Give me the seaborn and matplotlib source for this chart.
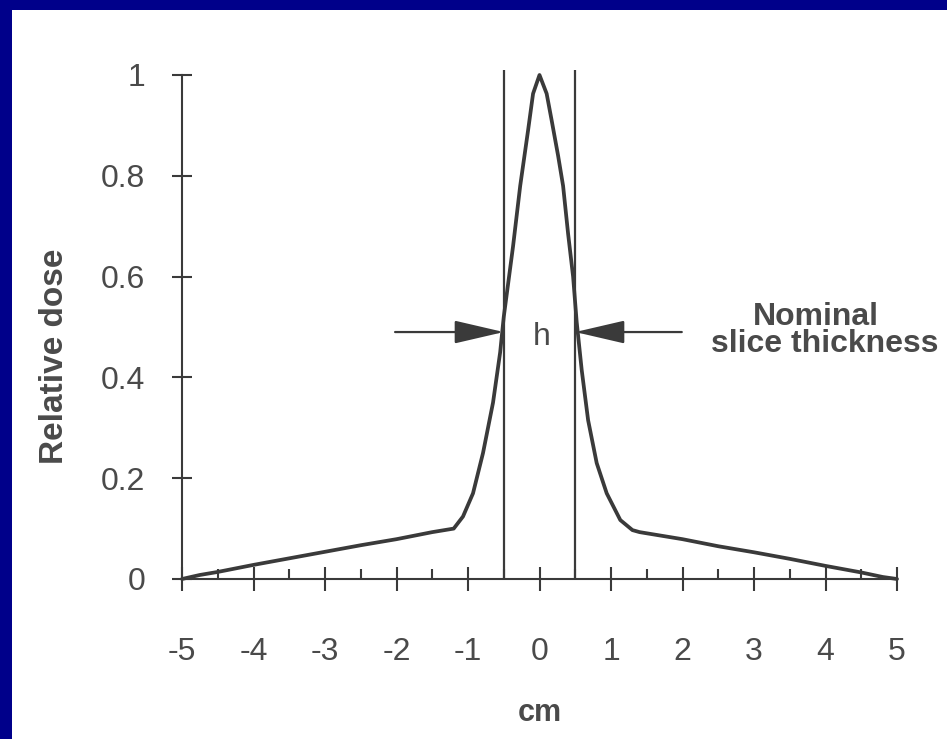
import numpy as np
import pandas as pd
import matplotlib
matplotlib.use('Agg')
import matplotlib.pyplot as plt
import seaborn as sns
from matplotlib.patches import Rectangle
from matplotlib.ticker import MultipleLocator

# slice sensitivity profile
cm_pos = [-5.0, -4.75, -4.5, -4.0, -3.5, -3.0, -2.5, -2.0, -1.5, -1.2, -1.07, -0.93, -0.79, -0.65,
          -0.55, -0.5, -0.37, -0.27, -0.16, -0.09, 0.0, 0.1, 0.17, 0.26, 0.33, 0.4, 0.47, 0.52,
          0.59, 0.68, 0.8, 0.94, 1.13, 1.3, 1.4, 2.0, 2.5, 3.0, 3.5, 4.0, 4.5, 4.8, 5.0]
dose = [0.0, 0.008, 0.014, 0.028, 0.041, 0.054, 0.067, 0.079, 0.093, 0.10, 0.124, 0.17, 0.25, 0.35,
        0.45, 0.52, 0.66, 0.78, 0.89, 0.963, 1.0, 0.963, 0.91, 0.84, 0.78, 0.685, 0.60, 0.51,
        0.415, 0.315, 0.23, 0.17, 0.117, 0.097, 0.093, 0.079, 0.065, 0.053, 0.04, 0.026, 0.013, 0.004, 0.0]
slice_edges = [-0.5, 0.5]
half_max = 0.49
x_ticks = [-5, -4, -3, -2, -1, 0, 1, 2, 3, 4, 5]
x_labels = ['-5', '-4', '-3', '-2', '-1', '0', '1', '2', '3', '4', '5']
y_ticks = [0, 0.2, 0.4, 0.6, 0.8, 1.0]
y_labels = ['0', '0.2', '0.4', '0.6', '0.8', '1']

df = pd.DataFrame({'cm': cm_pos, 'dose': dose})

sns.set_theme(style='white')
plt.rcParams['font.family'] = ['Liberation Sans', 'DejaVu Sans']
ink = '#3a3a3a'
txt = '#4a4a4a'

fig = plt.figure(figsize=(9.47, 7.39), dpi=100)
fig.patch.set_facecolor('#00008a')
fig.add_artist(Rectangle((12/947, 0), 1, 1 - 10/739, transform=fig.transFigure,
                         facecolor='white', edgecolor='none', zorder=0))
ax = fig.add_axes([182/947, (739-579)/739, 715/947, 504/739])
ax.set_facecolor('none')

sns.lineplot(data=df, x='cm', y='dose', ax=ax, color=ink, linewidth=2.7, clip_on=False, zorder=3)
ax.vlines(slice_edges, 0, 1.01, color=ink, linewidth=1.6, clip_on=False, zorder=2)

arrow_kw = dict(arrowstyle='-|>,head_length=1.55,head_width=0.36', color=ink, lw=1.6,
                mutation_scale=20, shrinkA=0, shrinkB=0)
ax.annotate('', xy=(slice_edges[0], half_max), xytext=(-2.02, half_max), arrowprops=arrow_kw)
ax.annotate('', xy=(slice_edges[1], half_max), xytext=(1.99, half_max), arrowprops=arrow_kw)
ax.text(0.03, 0.464, 'h', ha='center', va='baseline', fontsize=23, color=txt)
ax.text(3.87, 0.504, 'Nominal', ha='center', va='baseline', fontsize=23,
        fontweight='bold', color=txt)
ax.text(3.99, 0.450, 'slice thickness', ha='center', va='baseline', fontsize=23,
        fontweight='bold', color=txt)

ax.set_xlim(-5, 5)
ax.set_ylim(0, 1)
sns.despine(ax=ax)
for s in ['left', 'bottom']:
    ax.spines[s].set_color(ink)
    ax.spines[s].set_linewidth(1.5)

ax.set_xticks(x_ticks)
ax.set_xticklabels(x_labels)
ax.set_yticks(y_ticks)
ax.set_yticklabels(y_labels)
ax.xaxis.set_minor_locator(MultipleLocator(0.5))
ax.tick_params(axis='x', which='major', direction='inout', length=17, width=1.5, color=ink,
               labelsize=23, labelcolor=txt, pad=33, bottom=True)
ax.tick_params(axis='x', which='minor', direction='in', length=7.5, width=1.5, color=ink, bottom=True)
ax.tick_params(axis='y', which='major', direction='inout', length=15, width=1.5, color=ink,
               labelsize=23, labelcolor=txt, pad=19, left=True)

ax.set_xlabel('cm', fontsize=22, fontweight='bold', color=txt)
ax.set_ylabel('Relative dose', fontsize=24, fontweight='bold', color=txt)
ax.xaxis.set_label_coords(0.5, -0.266)
ax.xaxis.label.set_va('center')
ax.yaxis.set_label_coords(-0.178, 0.442)
ax.yaxis.label.set_va('center')
ax.grid(False)

fig.savefig('out.png', dpi=100, facecolor=fig.get_facecolor())
